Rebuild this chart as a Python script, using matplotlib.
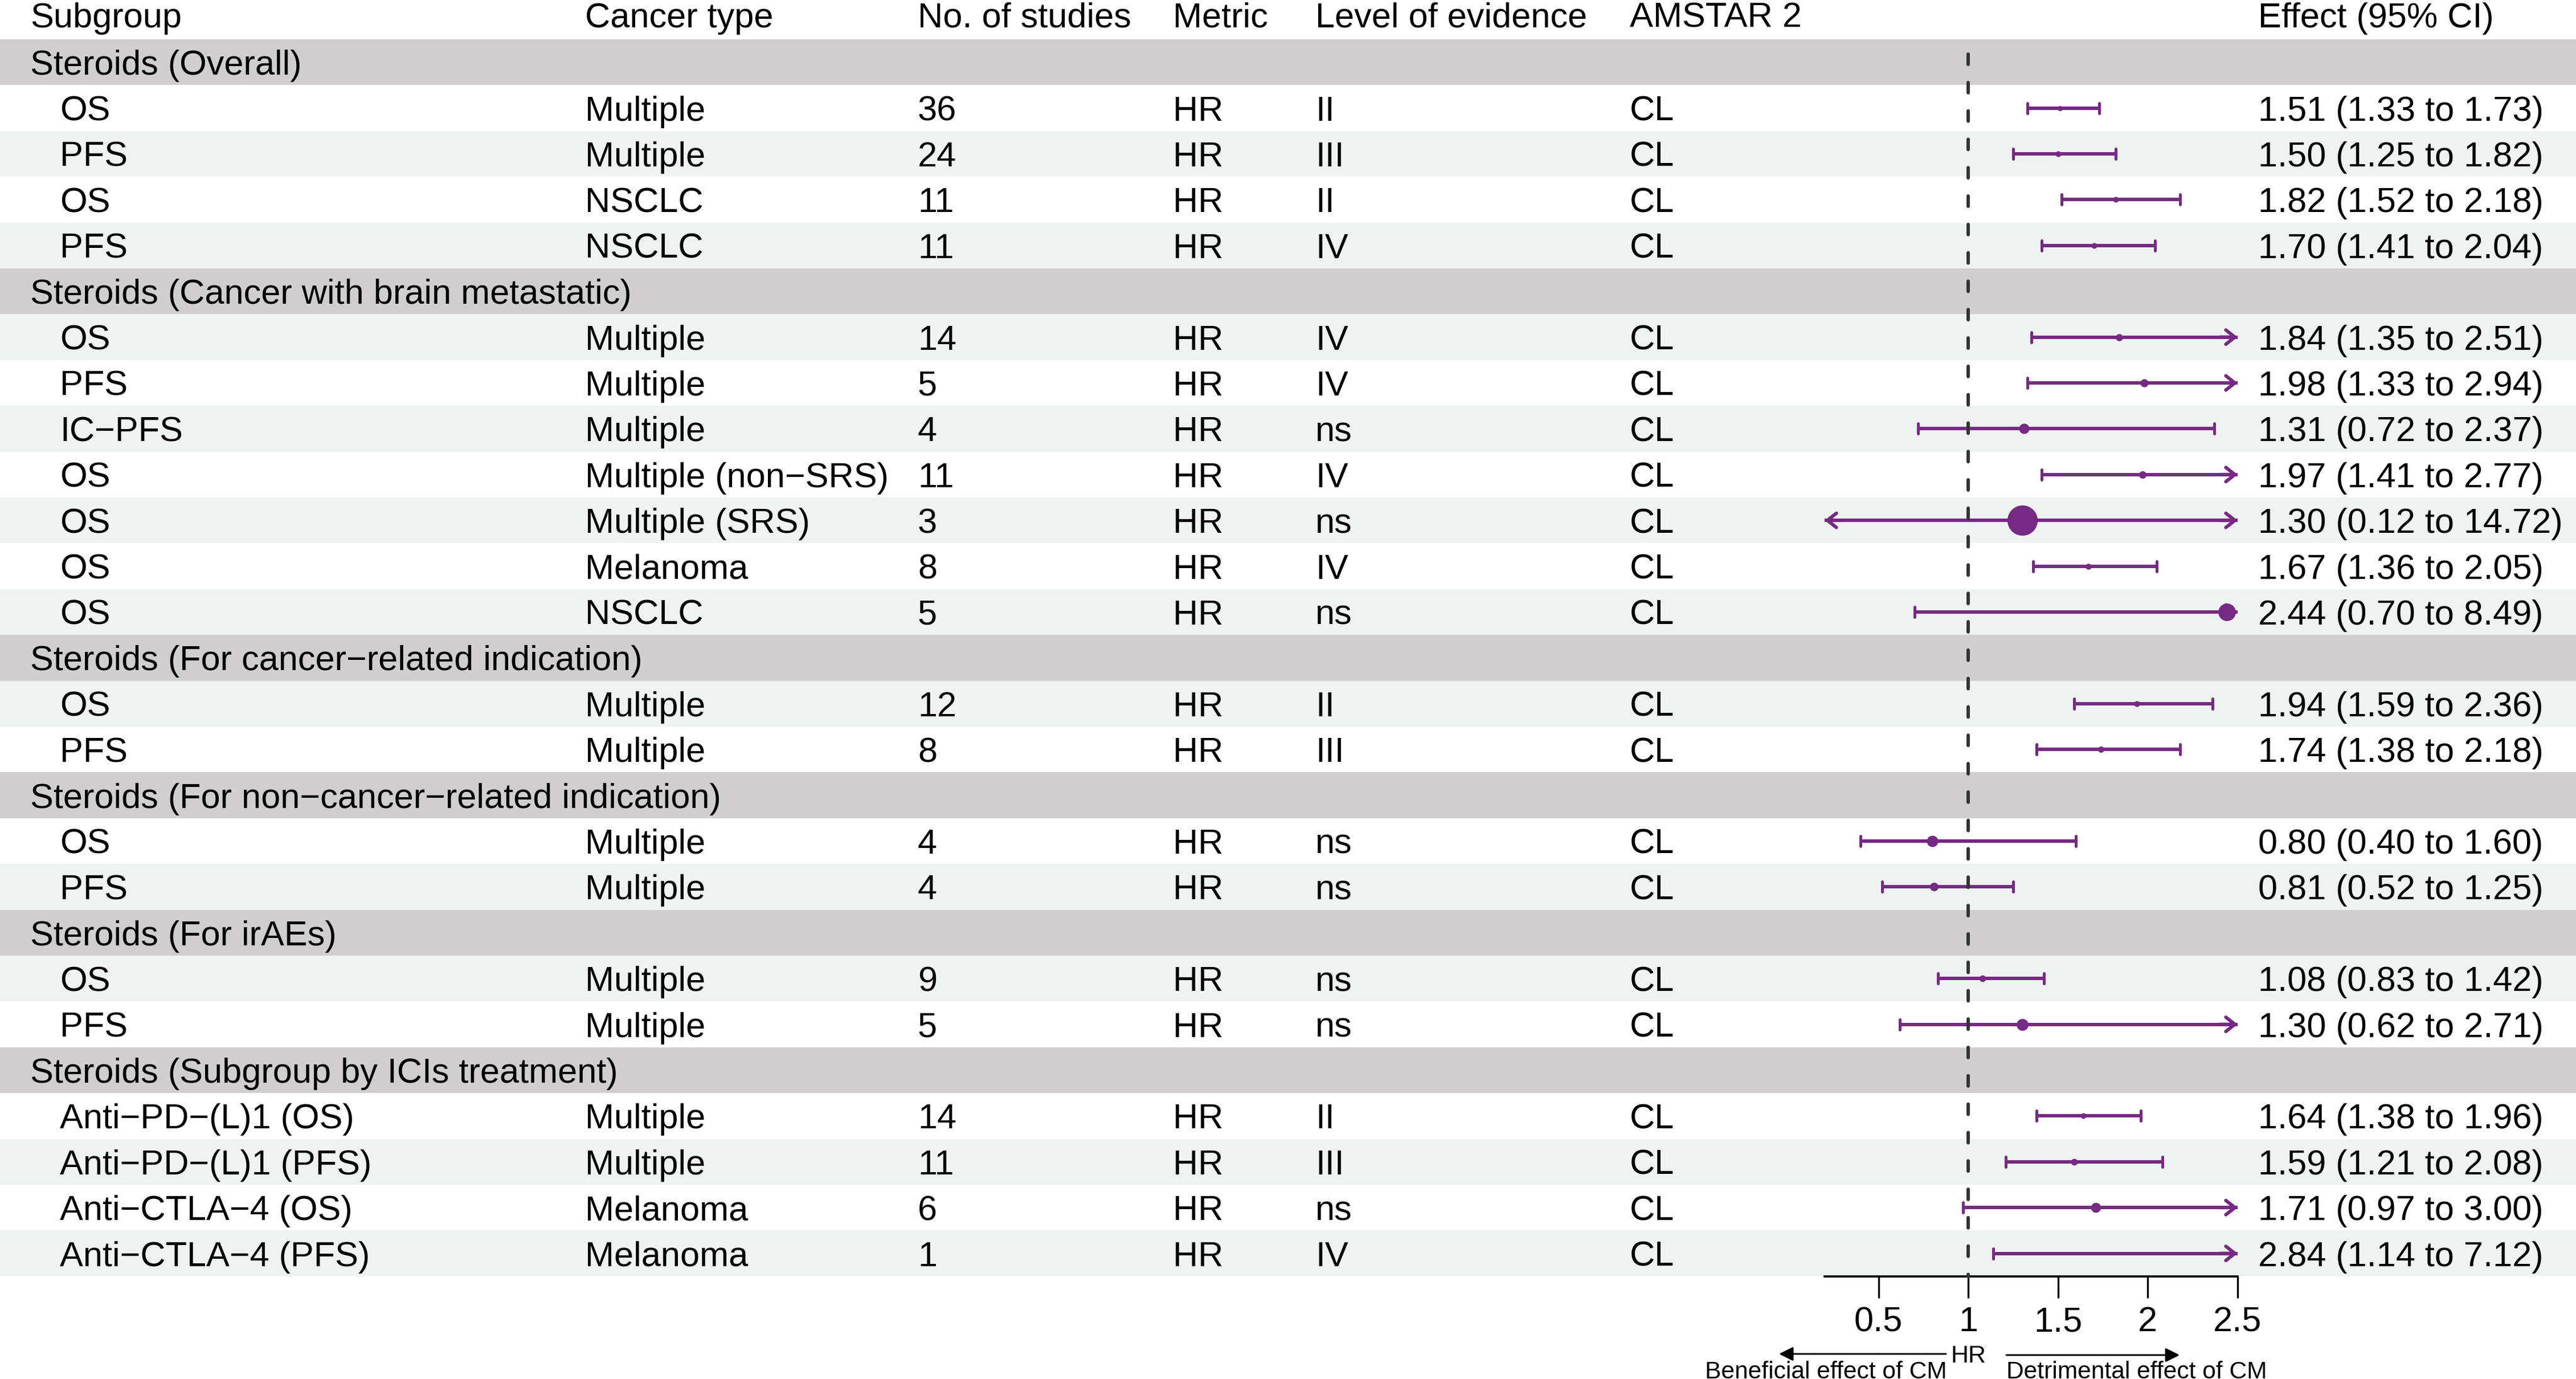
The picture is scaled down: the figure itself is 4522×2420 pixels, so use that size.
import numpy as np
import matplotlib.pyplot as plt

plt.rcParams['font.family'] = ['Liberation Sans', 'DejaVu Sans']

# ---- data ----
group_names = [
    "Steroids (Overall)",
    "Steroids (Cancer with brain metastatic)",
    "Steroids (For cancer\u2212related indication)",
    "Steroids (For non\u2212cancer\u2212related indication)",
    "Steroids (For irAEs)",
    "Steroids (Subgroup by ICIs treatment)",
]
group_sizes = [4, 7, 2, 2, 2, 4]

outcome = ["OS", "PFS", "OS", "PFS",
           "OS", "PFS", "IC\u2212PFS", "OS", "OS", "OS", "OS",
           "OS", "PFS",
           "OS", "PFS",
           "OS", "PFS",
           "Anti\u2212PD\u2212(L)1 (OS)", "Anti\u2212PD\u2212(L)1 (PFS)",
           "Anti\u2212CTLA\u22124 (OS)", "Anti\u2212CTLA\u22124 (PFS)"]
cancer = ["Multiple", "Multiple", "NSCLC", "NSCLC",
          "Multiple", "Multiple", "Multiple", "Multiple (non\u2212SRS)",
          "Multiple (SRS)", "Melanoma", "NSCLC",
          "Multiple", "Multiple",
          "Multiple", "Multiple",
          "Multiple", "Multiple",
          "Multiple", "Multiple", "Melanoma", "Melanoma"]
n_studies = [36, 24, 11, 11,
             14, 5, 4, 11, 3, 8, 5,
             12, 8,
             4, 4,
             9, 5,
             14, 11, 6, 1]
metric = ["HR"] * 21
level = ["II", "III", "II", "IV",
         "IV", "IV", "ns", "IV", "ns", "IV", "ns",
         "II", "III",
         "ns", "ns",
         "ns", "ns",
         "II", "III", "ns", "IV"]
amstar = ["CL"] * 21
hr = [1.51, 1.50, 1.82, 1.70,
      1.84, 1.98, 1.31, 1.97, 1.30, 1.67, 2.44,
      1.94, 1.74,
      0.80, 0.81,
      1.08, 1.30,
      1.64, 1.59, 1.71, 2.84]
lower = [1.33, 1.25, 1.52, 1.41,
         1.35, 1.33, 0.72, 1.41, 0.12, 1.36, 0.70,
         1.59, 1.38,
         0.40, 0.52,
         0.83, 0.62,
         1.38, 1.21, 0.97, 1.14]
upper = [1.73, 1.82, 2.18, 2.04,
         2.51, 2.94, 2.37, 2.77, 14.72, 2.05, 8.49,
         2.36, 2.18,
         1.60, 1.25,
         1.42, 2.71,
         1.96, 2.08, 3.00, 7.12]

headers = ["Subgroup", "Cancer type", "No. of studies", "Metric",
           "Level of evidence", "AMSTAR 2", "Effect (95% CI)"]

# ---- layout (pixel units of the output image) ----
W, H, DPI = 4522, 2420, 300
TOP, ROW_H = 69, 80.4
FS = 14.7
CAP = 0.716 * FS * DPI / 72
col_x = [53, 1027, 1611, 2059, 2309, 2861, 3964]
INDENT = 105
PURPLE = '#762A83'
GRAY = '#D0CECF'
LIGHT = '#EEF2F1'
X0, X1 = 0.2, 2.5
FX0, FX1 = 3203, 3928

# build row list
rows = []
i = 0
for g, n in zip(group_names, group_sizes):
    rows.append(('group', g))
    for _ in range(n):
        rows.append(('item', i))
        i += 1
n_rows = len(rows)
BOTTOM = TOP + n_rows * ROW_H

fig = plt.figure(figsize=(W / DPI, H / DPI), dpi=DPI)
ax = fig.add_axes([0, 0, 1, 1])
ax.set_xlim(0, W)
ax.set_ylim(H, 0)
ax.axis('off')

# header
for x, h in zip(col_x, headers):
    ax.text(x, 29 + CAP / 2 - 3, h, fontsize=FS, va='baseline', ha='left')

# rows
for k, (kind, v) in enumerate(rows):
    y0 = TOP + k * ROW_H
    if kind == 'group':
        c = GRAY
    else:
        c = LIGHT if k % 2 == 0 else 'white'
    ax.axhspan(y0, y0 + ROW_H, color=c, lw=0, zorder=0)
    yb = y0 + ROW_H / 2 + CAP / 2
    if kind == 'group':
        ax.text(col_x[0], yb, v, fontsize=FS, va='baseline')
    else:
        cells = [outcome[v], cancer[v], str(n_studies[v]), metric[v], level[v], amstar[v],
                 f"{hr[v]:.2f} ({lower[v]:.2f} to {upper[v]:.2f})"]
        xs = [INDENT] + col_x[1:]
        for x, t in zip(xs, cells):
            ax.text(x, yb, t, fontsize=FS, va='baseline')

# ---- forest panel ----
fa = fig.add_axes([FX0 / W, (H - BOTTOM) / H, (FX1 - FX0) / W, (BOTTOM - TOP) / H])
fa.set_xlim(X0, X1)
fa.set_ylim(BOTTOM, TOP)
fa.patch.set_alpha(0)
for s in ['left', 'right', 'top']:
    fa.spines[s].set_visible(False)
fa.spines['bottom'].set_linewidth(0.9)
fa.set_yticks([])
fa.set_xticks([0.5, 1, 1.5, 2, 2.5])
fa.set_xticklabels(['0.5', '1', '1.5', '2', '2.5'])
fa.tick_params(axis='x', length=9.1, width=0.8, pad=3.5, labelsize=FS)

fa.plot([1, 1], [TOP + 26, BOTTOM], color='#333333', lw=1.44,
        dashes=(3.0, 5.3), dash_capstyle='round', zorder=6, clip_on=False)

head = dict(arrowstyle='->,head_length=0.38,head_width=0.3', color=PURPLE, lw=1.44,
            shrinkA=0, shrinkB=0, mutation_scale=10)
for k, (kind, v) in enumerate(rows):
    if kind != 'item':
        continue
    y = TOP + (k + 0.5) * ROW_H
    lo, hi, est = lower[v], upper[v], hr[v]
    a, b = max(lo, X0), min(hi, X1)
    fa.plot([a, b], [y, y], color=PURPLE, lw=1.44, solid_capstyle='butt',
            clip_on=False, zorder=3)
    if lo >= X0:
        fa.plot([lo, lo], [y - 9, y + 9], color=PURPLE, lw=1.2,
                solid_capstyle='round', clip_on=False, zorder=3)
    else:
        fa.annotate('', xy=(X0, y), xytext=(X0 + 0.1, y), arrowprops=head,
                    annotation_clip=False)
    if hi <= X1:
        fa.plot([hi, hi], [y - 9, y + 9], color=PURPLE, lw=1.2,
                solid_capstyle='round', clip_on=False, zorder=3)
    else:
        fa.annotate('', xy=(X1, y), xytext=(X1 - 0.1, y), arrowprops=head,
                    annotation_clip=False)
    if X0 <= est <= X1:
        se = (np.log(hi) - np.log(lo)) / (2 * 1.96)
        fa.plot(est, y, 'o', ms=1.56 + 9.12 * se, color=PURPLE, mew=0,
                zorder=4, clip_on=False)

# x label with direction arrows
fa.text(1, 2391, 'HR', fontsize=10.3, ha='center', va='baseline', clip_on=False)
arr = dict(arrowstyle='-|>,head_length=0.5,head_width=0.25', color='black', lw=0.7,
           shrinkA=0, shrinkB=0, mutation_scale=10)
fa.annotate('', xy=(-0.054, 2376), xytext=(0.876, 2376), arrowprops=arr,
            annotation_clip=False)
fa.annotate('', xy=(2.177, 2378), xytext=(1.212, 2378), arrowprops=arr,
            annotation_clip=False)
fa.text(0.88, 2419, 'Beneficial effect of CM', fontsize=10.2, ha='right',
        va='baseline', clip_on=False)
fa.text(1.212, 2419, 'Detrimental effect of CM', fontsize=10.2, ha='left',
        va='baseline', clip_on=False)

fig.savefig('out.png', dpi=DPI)
